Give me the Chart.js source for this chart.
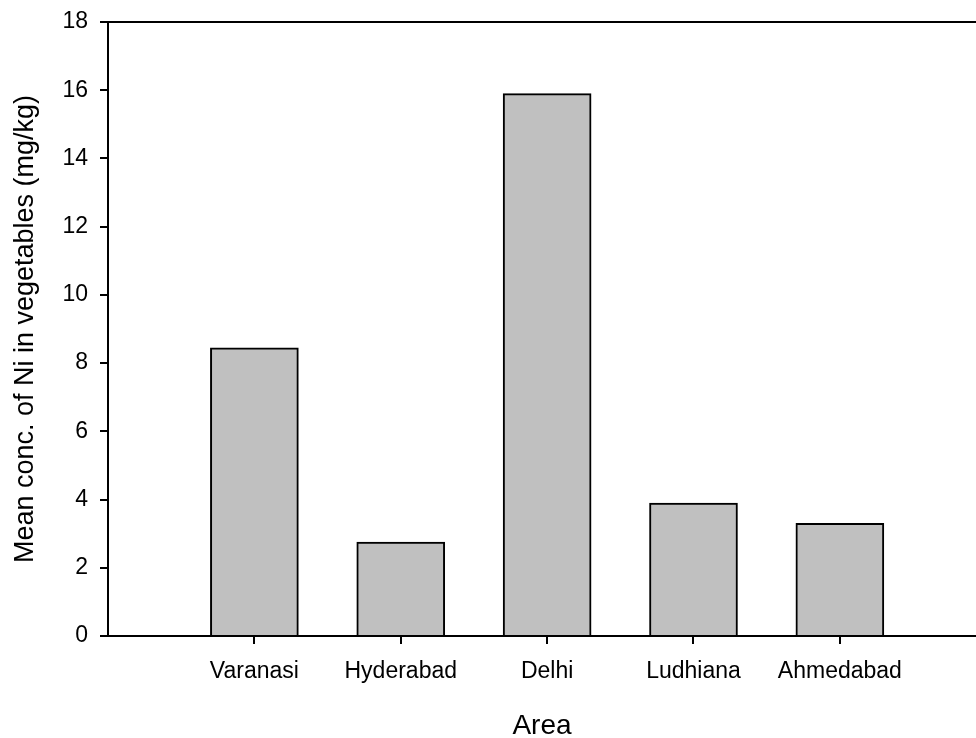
<!DOCTYPE html>
<html>
<head>
<meta charset="utf-8">
<script src="https://cdn.jsdelivr.net/npm/chart.js@4.4.1/dist/chart.umd.min.js"></script>
<style>
  html, body { margin: 0; padding: 0; background: #fff; overflow: hidden; }
  #wrap { width: 976px; height: 738px; }
</style>
</head>
<body>
<div id="wrap"><canvas id="myChart"></canvas></div>
<script>
var areas = ["Varanasi", "Hyderabad", "Delhi", "Ludhiana", "Ahmedabad"];
var niValues = [8.45, 2.75, 15.9, 3.9, 3.3];
var yTicks = [0, 2, 4, 6, 8, 10, 12, 14, 16, 18];

// bars sit at x = 1..5 on a linear axis, like the original plot
var points = areas.map(function (name, i) {
    return { x: i + 1, y: niValues[i] };
});

var topFrame = {
    id: 'topFrame',
    afterDraw: function (chart) {
        var a = chart.chartArea, ctx = chart.ctx;
        ctx.save();
        ctx.strokeStyle = '#000';
        ctx.lineWidth = 2;
        ctx.beginPath();
        ctx.moveTo(a.left, a.top);
        ctx.lineTo(a.right + 2, a.top);
        ctx.stroke();
        ctx.restore();
    }
};

Chart.defaults.font.family = "Liberation Sans, Arial, sans-serif";
Chart.defaults.color = '#000';

new Chart("myChart", {
    type: "bar",
    data: {
        datasets: [{
            data: points,
            backgroundColor: "#c0c0c0",
            borderColor: "#000",
            borderWidth: 2,
            barThickness: 88
        }]
    },
    options: {
        responsive: true,
        maintainAspectRatio: false,
        animation: false,
        layout: { padding: { top: 22, right: 0, left: 0, bottom: 0 } },
        plugins: {
            legend: { display: false },
            tooltip: { enabled: false }
        },
        scales: {
            x: {
                type: 'linear',
                offset: false,
                min: 0,
                max: 5.93,
                afterBuildTicks: function (scale) {
                    scale.ticks = areas.map(function (n, i) { return { value: i + 1 }; });
                },
                afterFit: function (scale) { scale.height = 102; },
                ticks: {
                    font: { size: 23 },
                    padding: 14,
                    maxRotation: 0,
                    autoSkip: false,
                    callback: function (v) { return areas[v - 1] || ''; }
                },
                grid: {
                    offset: false,
                    drawOnChartArea: false,
                    drawTicks: true,
                    tickLength: 8,
                    color: '#000',
                    lineWidth: 2
                },
                border: { color: '#000', width: 2 },
                title: {
                    display: true,
                    text: 'Area',
                    font: { size: 28 },
                    padding: { top: 0, bottom: -5 }
                }
            },
            y: {
                min: 0,
                max: 18,
                afterBuildTicks: function (scale) {
                    scale.ticks = yTicks.map(function (v) { return { value: v }; });
                },
                afterFit: function (scale) {
                    scale.width = 108;
                    scale.paddingTop = 0;
                    scale.paddingBottom = 0;
                },
                ticks: {
                    font: { size: 23 },
                    padding: 12
                },
                grid: {
                    drawOnChartArea: false,
                    drawTicks: true,
                    tickLength: 8,
                    color: '#000',
                    lineWidth: 2
                },
                border: { color: '#000', width: 2 },
                title: {
                    display: true,
                    text: 'Mean conc. of Ni in vegetables (mg/kg)',
                    font: { size: 27 },
                    padding: { top: 9, bottom: 0 }
                }
            }
        }
    },
    plugins: [topFrame]
});
</script>
</body>
</html>
